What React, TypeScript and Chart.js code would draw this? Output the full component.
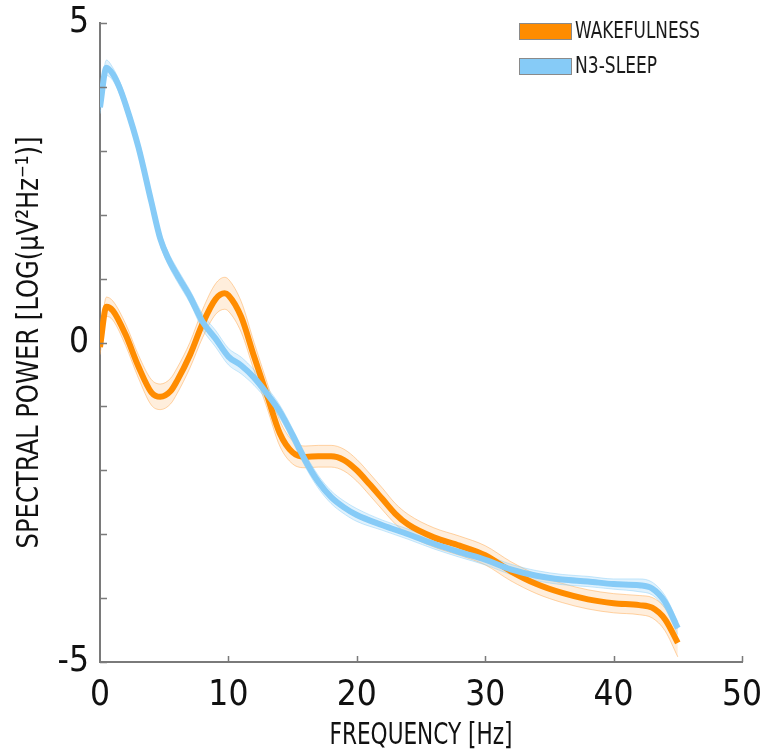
import { useEffect, useRef } from 'react';
import { Chart, registerables } from 'chart.js';

Chart.register(...registerables);

// ---- data ----
const wakeFreq = [0, 0.5, 1, 2, 3, 4, 4.7, 5.5, 6, 7, 8, 9, 9.7, 10, 11, 12, 13, 14, 15, 16, 17, 18, 19, 20, 21, 22, 23, 24, 26, 28, 30, 32, 34, 36, 38, 40, 42, 43, 44, 45];
const wakePower = [-0.07, 0.56, 0.5, 0.12, -0.38, -0.78, -0.85, -0.76, -0.6, -0.2, 0.3, 0.68, 0.77, 0.74, 0.4, -0.22, -0.82, -1.42, -1.72, -1.79, -1.78, -1.78, -1.84, -2.0, -2.22, -2.45, -2.68, -2.85, -3.05, -3.18, -3.33, -3.58, -3.78, -3.92, -4.02, -4.08, -4.11, -4.15, -4.33, -4.7];
const wakeCI = [0.12, 0.15, 0.15, 0.17, 0.18, 0.2, 0.2, 0.2, 0.2, 0.2, 0.22, 0.24, 0.25, 0.25, 0.24, 0.22, 0.2, 0.2, 0.18, 0.17, 0.17, 0.17, 0.17, 0.17, 0.17, 0.17, 0.16, 0.16, 0.15, 0.15, 0.15, 0.15, 0.15, 0.15, 0.15, 0.15, 0.15, 0.16, 0.18, 0.22];

const sleepFreq = [0, 0.5, 1, 1.5, 2, 3, 4, 4.7, 5.3, 6, 7, 8, 9, 10, 11, 12, 13, 14, 15, 16, 17, 18, 19, 20, 22, 24, 26, 28, 30, 32, 34, 36, 38, 40, 42, 43, 44, 45];
const sleepPower = [3.68, 4.3, 4.2, 4.0, 3.72, 3.05, 2.2, 1.62, 1.32, 1.06, 0.72, 0.32, 0.06, -0.22, -0.36, -0.55, -0.8, -1.08, -1.45, -1.85, -2.18, -2.42, -2.58, -2.7, -2.86, -3.0, -3.15, -3.28, -3.4, -3.55, -3.65, -3.71, -3.74, -3.78, -3.8, -3.85, -4.06, -4.47];
const sleepCI = [0.1, 0.12, 0.1, 0.1, 0.1, 0.1, 0.1, 0.1, 0.1, 0.1, 0.1, 0.12, 0.13, 0.13, 0.13, 0.12, 0.1, 0.1, 0.1, 0.1, 0.1, 0.1, 0.1, 0.1, 0.08, 0.08, 0.08, 0.08, 0.08, 0.08, 0.08, 0.08, 0.08, 0.08, 0.1, 0.1, 0.1, 0.1];

const seriesLabels = ['WAKEFULNESS', 'N3-SLEEP'];
const xTickValues = [0, 10, 20, 30, 40, 50];
const yTickLabelValues = [-5, 0, 5];
const xTitle = 'FREQUENCY [Hz]';
const yTitle = 'SPECTRAL POWER [LOG(\u00B5V\u00B2Hz\u207B\u00B9)]';

const ORANGE = '#FF8C00';
const BLUE = '#86CBF7';
const FONT = "'Liberation Sans Narrow', 'DejaVu Sans Condensed', sans-serif";

const pts = (xs: number[], ys: number[], off: number[] | null, sign = 0) =>
  xs.map((x, i) => ({ x, y: ys[i] + (off ? sign * off[i] : 0) }));

// draw text condensed horizontally to a given width
function narrowText(ctx: any, text: string, x: number, y: number, font: string, targetW: number, rot = 0) {
  ctx.save();
  ctx.font = font;
  const w = ctx.measureText(text).width;
  ctx.translate(x, y);
  if (rot) ctx.rotate(rot);
  ctx.scale(targetW / w, 1);
  ctx.fillText(text, 0, 0);
  ctx.restore();
}

export default function App() {
  const ref = useRef<HTMLCanvasElement | null>(null);

  useEffect(() => {
    document.body.style.margin = '0';
    const canvas = ref.current;
    if (!canvas) return;

    const textPlugin = {
      id: 'customText',
      afterDraw(chart: any) {
        const { ctx, chartArea } = chart;
        const colors = [ORANGE, BLUE];
        const bx = chartArea.right - 223;
        const rows = [23, 58];
        const legendW = [125, 82];
        ctx.save();
        ctx.textBaseline = 'middle';
        ctx.textAlign = 'left';
        seriesLabels.forEach((lab, i) => {
          const by = rows[i];
          ctx.fillStyle = colors[i];
          ctx.fillRect(bx, by, 53, 17);
          ctx.strokeStyle = '#8a8a8a';
          ctx.lineWidth = 1;
          ctx.strokeRect(bx + 0.5, by + 0.5, 52, 16);
          ctx.fillStyle = '#1a1a1a';
          narrowText(ctx, lab, bx + 56, by + 9.5, `23px ${FONT}`, legendW[i]);
        });
        // axis titles
        ctx.textAlign = 'center';
        ctx.fillStyle = '#111';
        const cx = (chartArea.left + chartArea.right) / 2;
        const cy = (chartArea.top + chartArea.bottom) / 2;
        narrowText(ctx, xTitle, cx, 736, `31px ${FONT}`, 183);
        narrowText(ctx, yTitle, 30, cy, `31px ${FONT}`, 412, -Math.PI / 2);
        ctx.restore();
      },
    };

    const tickPlugin = {
      id: 'inwardTicks',
      afterDatasetsDraw(chart: any) {
        const { ctx, chartArea, scales } = chart;
        ctx.save();
        ctx.strokeStyle = '#7a7a7a';
        ctx.lineWidth = 1.5;
        ctx.beginPath();
        scales.y.ticks.forEach((t: any) => {
          const py = Math.round(scales.y.getPixelForValue(t.value)) + 0.5;
          ctx.moveTo(chartArea.left, py);
          ctx.lineTo(chartArea.left + 7, py);
        });
        scales.x.ticks.forEach((t: any) => {
          if (t.value === scales.x.min) return;
          const px = Math.round(scales.x.getPixelForValue(t.value)) + 0.5;
          ctx.moveTo(px, chartArea.bottom);
          ctx.lineTo(px, chartArea.bottom - 6);
        });
        ctx.stroke();
        ctx.restore();
      },
    };

    const band = (label: string, data: any, color: string, bg: string | null, fill: any) => ({
      label,
      data,
      borderColor: color,
      backgroundColor: bg || 'transparent',
      borderWidth: 1,
      pointRadius: 0,
      cubicInterpolationMode: 'monotone',
      fill,
    });

    const chart = new Chart(canvas, {
      type: 'line',
      data: {
        datasets: [
          {
            label: seriesLabels[1],
            data: pts(sleepFreq, sleepPower, null),
            borderColor: BLUE,
            borderWidth: 6,
            pointRadius: 0,
            cubicInterpolationMode: 'monotone',
            fill: false,
          },
          {
            label: seriesLabels[0],
            data: pts(wakeFreq, wakePower, null),
            borderColor: ORANGE,
            borderWidth: 6,
            pointRadius: 0,
            cubicInterpolationMode: 'monotone',
            fill: false,
          },
          band('sleepUpper', pts(sleepFreq, sleepPower, sleepCI, 1), 'rgba(134,203,247,0.45)', 'rgba(134,203,247,0.25)', 3),
          band('sleepLower', pts(sleepFreq, sleepPower, sleepCI, -1), 'rgba(134,203,247,0.45)', null, false),
          band('wakeUpper', pts(wakeFreq, wakePower, wakeCI, 1), 'rgba(255,170,80,0.5)', 'rgba(255,170,80,0.2)', 5),
          band('wakeLower', pts(wakeFreq, wakePower, wakeCI, -1), 'rgba(255,170,80,0.5)', null, false),
        ],
      },
      options: {
        responsive: false,
        animation: false,
        events: [],
        layout: { padding: { top: 23, right: 23, left: 0, bottom: 0 } },
        plugins: {
          legend: { display: false },
          tooltip: { enabled: false },
        },
        scales: {
          x: {
            type: 'linear',
            min: 0,
            max: 50,
            afterFit: (s: any) => { s.height = 94; s.paddingLeft = 0; s.paddingRight = 0; },
            afterBuildTicks: (s: any) => { s.ticks = xTickValues.map((v) => ({ value: v })); },
            grid: { display: false, drawTicks: false },
            border: { display: true, color: '#7a7a7a', width: 2 },
            ticks: {
              padding: 13,
              color: '#111',
              font: { family: FONT, size: 35 },
              maxRotation: 0,
              callback: (v: any) => String(v),
            },
            title: { display: false },
          },
          y: {
            type: 'linear',
            min: -5,
            max: 5,
            afterFit: (s: any) => { s.width = 100; s.paddingTop = 0; s.paddingBottom = 0; },
            grid: { display: false, drawTicks: false },
            border: { display: true, color: '#7a7a7a', width: 2 },
            ticks: {
              stepSize: 1,
              padding: 11,
              color: '#111',
              font: { family: FONT, size: 35 },
              callback: (v: any) => (yTickLabelValues.includes(Number(v)) ? String(v) : ''),
            },
            title: { display: false },
          },
        },
      },
      plugins: [tickPlugin, textPlugin],
    } as any);

    return () => chart.destroy();
  }, []);

  return (
    <div style={{ width: 765, height: 756, background: '#fff' }}>
      <canvas ref={ref} width={765} height={756} style={{ display: 'block' }} />
    </div>
  );
}
